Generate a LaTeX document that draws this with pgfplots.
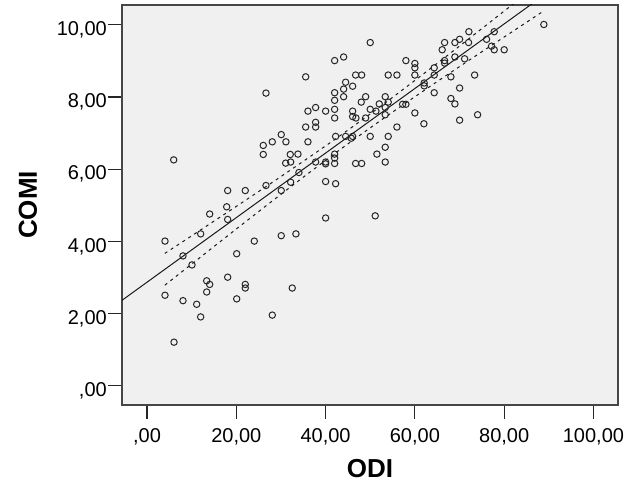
\documentclass[border=0pt]{standalone}
\usepackage{pgfplots}
\pgfplotsset{compat=1.18}
\usepackage{pgfplotstable}
\usepackage{fontspec}
\setmainfont{Liberation Sans}
\definecolor{plotbg}{RGB}{240,240,240}
\definecolor{frame}{RGB}{70,70,70}

\pgfplotstableread{
x y
4.03 4.01
4.03 2.51
6.05 1.21
5.98 6.26
8.06 3.60
8.06 2.36
10.08 3.35
11.13 2.26
12.02 4.21
12.02 1.91
13.37 2.91
14.04 2.81
13.37 2.60
14.04 4.76
17.85 4.96
18.07 4.61
18.07 5.41
18.07 3.01
20.09 3.66
20.09 2.41
22.01 5.41
22.01 2.81
22.01 2.71
24.03 4.01
26.65 5.55
26.65 8.11
26.04 6.66
26.04 6.41
28.06 6.76
28.06 1.96
30.07 6.96
31.12 6.76
30.07 5.41
30.07 4.16
31.06 6.17
32.18 6.20
32.09 6.41
32.18 5.64
32.53 2.71
33.36 4.21
33.81 6.42
34.03 5.91
35.54 8.56
35.54 7.17
36.05 7.61
36.05 6.76
37.77 7.71
37.77 7.30
37.77 7.17
37.77 6.20
40.01 7.61
40.01 6.20
40.01 6.15
40.01 5.66
40.01 4.65
42.03 9.01
42.03 8.12
42.03 7.91
42.03 7.66
42.03 7.42
42.25 6.91
42.03 6.42
42.03 6.31
42.03 6.16
42.25 5.60
44.04 9.11
44.49 8.41
44.04 8.22
46.06 8.30
44.04 8.01
44.49 6.91
46.06 6.91
45.75 6.86
46.06 7.61
46.06 7.46
46.80 7.42
46.73 8.61
48.08 8.61
46.73 6.16
48.08 6.16
47.99 7.86
48.97 8.01
48.97 7.42
50.00 9.51
50.00 7.66
50.00 6.91
51.28 7.61
51.50 6.42
51.12 4.71
52.02 7.81
53.36 8.01
54.03 7.86
53.36 7.71
53.36 7.51
53.36 6.61
53.36 6.20
54.03 6.91
54.03 8.61
55.98 8.61
55.98 7.17
57.25 7.80
57.99 7.80
57.99 9.01
60.00 8.93
60.00 8.81
60.00 8.61
60.00 7.56
62.02 7.26
62.09 8.39
62.09 8.31
64.33 8.81
64.33 8.61
64.33 8.12
66.12 9.31
66.66 9.51
66.66 9.01
66.66 8.94
68.07 8.56
68.07 7.96
68.97 9.51
68.97 9.11
68.97 7.81
70.02 9.60
70.02 8.25
70.02 7.36
71.14 9.06
72.03 9.51
72.10 9.81
73.38 8.61
74.05 7.51
76.06 9.60
77.18 9.41
77.77 9.81
77.77 9.31
80.01 9.31
88.89 10.01
}\datatable

\begin{document}
\begin{tikzpicture}
\path[use as bounding box, fill=white] (0,0) rectangle (626bp,501bp);
\begin{axis}[
  at={(122bp,96bp)}, anchor=south west,
  scale only axis, width=496bp, height=400bp,
  xmin=-5.6, xmax=105.5, ymin=-0.53, ymax=10.55,
  axis background/.style={fill=plotbg},
  axis line style={draw=frame, line width=1.2bp},
  xtick={0,20,40,60,80,100},
  xticklabels={{,00},{20,00},{40,00},{60,00},{80,00},{100,00}},
  ytick={0,2,4,6,8,10},
  yticklabels={{,00},{2,00},{4,00},{6,00},{8,00},{10,00}},
  xtick pos=bottom, ytick pos=left,
  tick align=outside, major tick length=14bp,
  tick style={draw=black!85, line width=1.2bp},
  ticklabel style={font=\fontsize{20bp}{24bp}\selectfont, inner sep=0pt},
  xticklabel style={anchor=base, yshift=-23.3bp},
  yticklabel style={anchor=base east, xshift=-1bp, yshift=-10.65bp},
  xlabel={ODI}, ylabel={COMI},
  label style={font=\fontsize{26bp}{30bp}\selectfont\bfseries},
  xlabel style={at={(axis description cs:0.5,-0.16)}, anchor=center},
  ylabel style={at={(axis description cs:-0.1895,0.5)}, anchor=center},
  clip=true,
]
\addplot[only marks, mark=o, mark size=3.2bp,
  mark options={line width=1bp, draw=black!85}] table[x=x,y=y] {\datatable};
\addplot[no markers, black!90, line width=1bp] coordinates {(-5.6,2.37) (90,10.92)};
\addplot[no markers, smooth, black!90, line width=1bp, dash pattern=on 3bp off 4bp] coordinates {
(4,3.67) (10,4.155) (20,4.971) (30,5.798) (40,6.647) (47,7.262) (55,7.991) (65,8.933) (75,9.896) (85,10.868) (88.9,11.25)};
\addplot[no markers, smooth, black!90, line width=1bp, dash pattern=on 3bp off 4bp] coordinates {
(4,2.79) (10,3.373) (20,4.345) (30,5.306) (40,6.247) (47,6.882) (55,7.583) (65,8.429) (75,9.254) (85,10.07) (88.9,10.39)};
\end{axis}
\end{tikzpicture}
\end{document}
